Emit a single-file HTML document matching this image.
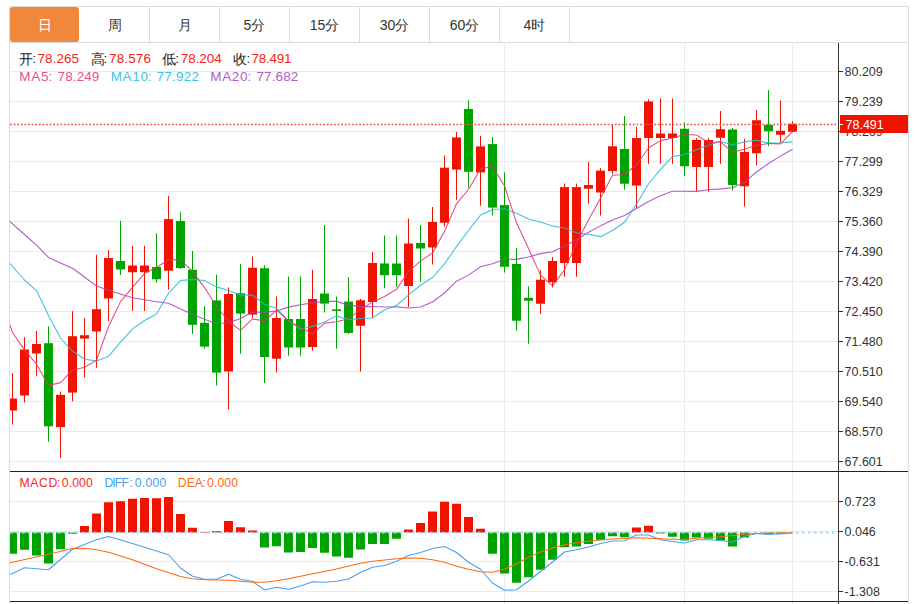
<!DOCTYPE html>
<html><head><meta charset="utf-8"><style>
*{margin:0;padding:0;box-sizing:border-box}
html,body{width:916px;height:604px;overflow:hidden;background:#fff;font-family:"Liberation Sans",sans-serif}
#frame{position:absolute;left:9px;top:6px;width:900px;height:600px;border:1px solid #dcdcdc;border-bottom:none}
#tabline{position:absolute;left:10px;top:42px;width:898px;height:1px;background:#dcdcdc}
.tab{position:absolute;top:7px;height:35px;line-height:36px;text-align:center;font-size:14px;color:#333}
.tab.on{background:#ef883b;color:#fff;border-radius:3px}
.div{position:absolute;top:7px;width:1px;height:35px;background:#dcdcdc}
svg{position:absolute;left:0;top:0}
.ax{font-size:12.5px;fill:#333;font-family:"Liberation Sans",sans-serif}
.lg{position:absolute;font-size:13px;white-space:nowrap;color:#222}
.lg span{margin-right:0}
</style></head><body>
<div id="frame"></div>
<div id="tabline"></div>
<div class="tab on" style="left:10px;width:69px">日</div><div class="tab" style="left:80px;width:69px">周</div><div class="div" style="left:149px"></div><div class="tab" style="left:150px;width:69px">月</div><div class="div" style="left:219px"></div><div class="tab" style="left:220px;width:69px">5分</div><div class="div" style="left:289px"></div><div class="tab" style="left:290px;width:69px">15分</div><div class="div" style="left:359px"></div><div class="tab" style="left:360px;width:69px">30分</div><div class="div" style="left:429px"></div><div class="tab" style="left:430px;width:69px">60分</div><div class="div" style="left:499px"></div><div class="tab" style="left:500px;width:69px">4时</div><div class="div" style="left:569px"></div>
<svg width="916" height="604" viewBox="0 0 916 604">
<defs><clipPath id="cm"><rect x="10" y="43" width="828" height="428"/></clipPath>
<clipPath id="cd"><rect x="10" y="472" width="828" height="129"/></clipPath></defs>
<line x1="10" y1="71.5" x2="838" y2="71.5" stroke="#e1edf3" stroke-width="1"/>
<line x1="10" y1="101.5" x2="838" y2="101.5" stroke="#e1edf3" stroke-width="1"/>
<line x1="10" y1="131.5" x2="838" y2="131.5" stroke="#e1edf3" stroke-width="1"/>
<line x1="10" y1="161.5" x2="838" y2="161.5" stroke="#e1edf3" stroke-width="1"/>
<line x1="10" y1="191.5" x2="838" y2="191.5" stroke="#e1edf3" stroke-width="1"/>
<line x1="10" y1="221.5" x2="838" y2="221.5" stroke="#e1edf3" stroke-width="1"/>
<line x1="10" y1="251.5" x2="838" y2="251.5" stroke="#e1edf3" stroke-width="1"/>
<line x1="10" y1="281.5" x2="838" y2="281.5" stroke="#e1edf3" stroke-width="1"/>
<line x1="10" y1="311.5" x2="838" y2="311.5" stroke="#e1edf3" stroke-width="1"/>
<line x1="10" y1="341.5" x2="838" y2="341.5" stroke="#e1edf3" stroke-width="1"/>
<line x1="10" y1="371.5" x2="838" y2="371.5" stroke="#e1edf3" stroke-width="1"/>
<line x1="10" y1="401.5" x2="838" y2="401.5" stroke="#e1edf3" stroke-width="1"/>
<line x1="10" y1="431.5" x2="838" y2="431.5" stroke="#e1edf3" stroke-width="1"/>
<line x1="10" y1="461.5" x2="838" y2="461.5" stroke="#e1edf3" stroke-width="1"/>
<line x1="10" y1="501.5" x2="838" y2="501.5" stroke="#e1edf3" stroke-width="1"/>
<line x1="10" y1="531.5" x2="838" y2="531.5" stroke="#e1edf3" stroke-width="1"/>
<line x1="10" y1="561.5" x2="838" y2="561.5" stroke="#e1edf3" stroke-width="1"/>
<line x1="10" y1="591.5" x2="838" y2="591.5" stroke="#e1edf3" stroke-width="1"/>
<line x1="504.5" y1="43" x2="504.5" y2="604" stroke="#e1edf3" stroke-width="1"/>
<line x1="684.5" y1="43" x2="684.5" y2="604" stroke="#e1edf3" stroke-width="1"/>
<line x1="792.5" y1="43" x2="792.5" y2="604" stroke="#e1edf3" stroke-width="1"/>
<g clip-path="url(#cm)"><rect x="12.0" y="373.00" width="1" height="51.50" fill="#f01400"/><rect x="8.0" y="398.50" width="9" height="12.00" fill="#f01400"/><rect x="24.0" y="337.10" width="1" height="65.40" fill="#f01400"/><rect x="20.0" y="349.50" width="9" height="46.00" fill="#f01400"/><rect x="36.0" y="331.00" width="1" height="45.30" fill="#f01400"/><rect x="32.0" y="344.00" width="9" height="9.50" fill="#f01400"/><rect x="48.0" y="326.50" width="1" height="115.20" fill="#00a400"/><rect x="44.0" y="343.20" width="9" height="83.10" fill="#00a400"/><rect x="60.0" y="391.60" width="1" height="66.20" fill="#f01400"/><rect x="56.0" y="394.90" width="9" height="32.30" fill="#f01400"/><rect x="72.0" y="311.20" width="1" height="90.10" fill="#f01400"/><rect x="68.0" y="336.20" width="9" height="56.40" fill="#f01400"/><rect x="84.0" y="318.20" width="1" height="59.30" fill="#f01400"/><rect x="80.0" y="335.20" width="9" height="3.40" fill="#f01400"/><rect x="96.0" y="254.75" width="1" height="113.05" fill="#f01400"/><rect x="92.0" y="309.20" width="9" height="22.30" fill="#f01400"/><rect x="108.0" y="250.00" width="1" height="71.00" fill="#f01400"/><rect x="104.0" y="258.00" width="9" height="40.50" fill="#f01400"/><rect x="120.0" y="220.75" width="1" height="54.25" fill="#00a400"/><rect x="116.0" y="261.00" width="9" height="8.50" fill="#00a400"/><rect x="132.0" y="245.75" width="1" height="65.25" fill="#f01400"/><rect x="128.0" y="265.50" width="9" height="6.75" fill="#f01400"/><rect x="144.0" y="245.75" width="1" height="65.25" fill="#f01400"/><rect x="140.0" y="265.50" width="9" height="6.75" fill="#f01400"/><rect x="156.0" y="233.25" width="1" height="49.50" fill="#00a400"/><rect x="152.0" y="267.00" width="9" height="12.25" fill="#00a400"/><rect x="168.0" y="196.10" width="1" height="93.65" fill="#f01400"/><rect x="164.0" y="219.10" width="9" height="51.65" fill="#f01400"/><rect x="180.0" y="212.25" width="1" height="56.75" fill="#00a400"/><rect x="176.0" y="221.00" width="9" height="47.00" fill="#00a400"/><rect x="192.0" y="251.00" width="1" height="83.00" fill="#00a400"/><rect x="188.0" y="269.80" width="9" height="55.00" fill="#00a400"/><rect x="204.0" y="306.10" width="1" height="42.30" fill="#00a400"/><rect x="200.0" y="322.80" width="9" height="23.80" fill="#00a400"/><rect x="216.0" y="274.70" width="1" height="110.80" fill="#00a400"/><rect x="212.0" y="300.40" width="9" height="72.20" fill="#00a400"/><rect x="228.0" y="287.40" width="1" height="122.00" fill="#f01400"/><rect x="224.0" y="294.00" width="9" height="77.40" fill="#f01400"/><rect x="240.0" y="263.90" width="1" height="89.90" fill="#00a400"/><rect x="236.0" y="293.20" width="9" height="20.40" fill="#00a400"/><rect x="252.0" y="256.50" width="1" height="61.60" fill="#f01400"/><rect x="248.0" y="267.75" width="9" height="46.85" fill="#f01400"/><rect x="264.0" y="265.25" width="1" height="117.75" fill="#00a400"/><rect x="260.0" y="268.25" width="9" height="88.75" fill="#00a400"/><rect x="276.0" y="296.50" width="1" height="76.00" fill="#f01400"/><rect x="272.0" y="318.00" width="9" height="40.75" fill="#f01400"/><rect x="288.0" y="276.50" width="1" height="79.25" fill="#00a400"/><rect x="284.0" y="319.00" width="9" height="28.50" fill="#00a400"/><rect x="300.0" y="276.50" width="1" height="79.25" fill="#00a400"/><rect x="296.0" y="319.00" width="9" height="28.50" fill="#00a400"/><rect x="312.0" y="269.75" width="1" height="81.00" fill="#f01400"/><rect x="308.0" y="299.00" width="9" height="48.00" fill="#f01400"/><rect x="324.0" y="225.00" width="1" height="87.60" fill="#00a400"/><rect x="320.0" y="293.50" width="9" height="10.10" fill="#00a400"/><rect x="336.0" y="296.50" width="1" height="52.25" fill="#00a400"/><rect x="332.0" y="309.30" width="9" height="1.60" fill="#00a400"/><rect x="348.0" y="277.00" width="1" height="57.10" fill="#00a400"/><rect x="344.0" y="301.50" width="9" height="31.40" fill="#00a400"/><rect x="360.0" y="299.00" width="1" height="72.50" fill="#f01400"/><rect x="356.0" y="300.25" width="9" height="25.50" fill="#f01400"/><rect x="372.0" y="252.00" width="1" height="65.50" fill="#f01400"/><rect x="368.0" y="263.00" width="9" height="39.00" fill="#f01400"/><rect x="384.0" y="235.50" width="1" height="52.75" fill="#00a400"/><rect x="380.0" y="263.50" width="9" height="11.75" fill="#00a400"/><rect x="396.0" y="235.50" width="1" height="51.50" fill="#00a400"/><rect x="392.0" y="263.50" width="9" height="11.75" fill="#00a400"/><rect x="408.0" y="218.50" width="1" height="88.50" fill="#f01400"/><rect x="404.0" y="243.50" width="9" height="42.50" fill="#f01400"/><rect x="420.0" y="225.00" width="1" height="56.50" fill="#00a400"/><rect x="416.0" y="243.00" width="9" height="5.50" fill="#00a400"/><rect x="432.0" y="207.00" width="1" height="57.50" fill="#f01400"/><rect x="428.0" y="222.00" width="9" height="25.50" fill="#f01400"/><rect x="444.0" y="155.30" width="1" height="71.20" fill="#f01400"/><rect x="440.0" y="167.70" width="9" height="55.05" fill="#f01400"/><rect x="456.0" y="131.90" width="1" height="67.90" fill="#f01400"/><rect x="452.0" y="137.40" width="9" height="32.20" fill="#f01400"/><rect x="468.0" y="100.40" width="1" height="87.30" fill="#00a400"/><rect x="464.0" y="109.00" width="9" height="62.80" fill="#00a400"/><rect x="480.0" y="135.80" width="1" height="69.90" fill="#f01400"/><rect x="476.0" y="146.40" width="9" height="26.00" fill="#f01400"/><rect x="492.0" y="137.00" width="1" height="78.50" fill="#00a400"/><rect x="488.0" y="144.10" width="9" height="63.50" fill="#00a400"/><rect x="504.0" y="172.50" width="1" height="100.00" fill="#00a400"/><rect x="500.0" y="205.10" width="9" height="61.65" fill="#00a400"/><rect x="516.0" y="248.00" width="1" height="82.75" fill="#00a400"/><rect x="512.0" y="264.00" width="9" height="56.75" fill="#00a400"/><rect x="528.0" y="286.25" width="1" height="57.50" fill="#00a400"/><rect x="524.0" y="297.75" width="9" height="3.00" fill="#00a400"/><rect x="540.0" y="270.00" width="1" height="43.75" fill="#f01400"/><rect x="536.0" y="279.75" width="9" height="24.00" fill="#f01400"/><rect x="552.0" y="257.00" width="1" height="30.50" fill="#f01400"/><rect x="548.0" y="261.00" width="9" height="21.25" fill="#f01400"/><rect x="564.0" y="183.60" width="1" height="93.15" fill="#f01400"/><rect x="560.0" y="187.10" width="9" height="75.90" fill="#f01400"/><rect x="576.0" y="183.60" width="1" height="93.15" fill="#f01400"/><rect x="572.0" y="187.10" width="9" height="75.90" fill="#f01400"/><rect x="588.0" y="162.20" width="1" height="41.55" fill="#f01400"/><rect x="584.0" y="185.00" width="9" height="3.75" fill="#f01400"/><rect x="600.0" y="168.10" width="1" height="47.40" fill="#f01400"/><rect x="596.0" y="170.60" width="9" height="21.90" fill="#f01400"/><rect x="612.0" y="124.25" width="1" height="50.00" fill="#f01400"/><rect x="608.0" y="146.25" width="9" height="24.85" fill="#f01400"/><rect x="624.0" y="116.00" width="1" height="73.75" fill="#00a400"/><rect x="620.0" y="149.00" width="9" height="34.75" fill="#00a400"/><rect x="636.0" y="127.00" width="1" height="81.00" fill="#f01400"/><rect x="632.0" y="138.00" width="9" height="47.60" fill="#f01400"/><rect x="648.0" y="99.25" width="1" height="64.50" fill="#f01400"/><rect x="644.0" y="101.50" width="9" height="36.50" fill="#f01400"/><rect x="660.0" y="98.50" width="1" height="65.25" fill="#f01400"/><rect x="656.0" y="133.50" width="9" height="4.50" fill="#f01400"/><rect x="672.0" y="98.50" width="1" height="65.25" fill="#f01400"/><rect x="668.0" y="133.50" width="9" height="4.50" fill="#f01400"/><rect x="684.0" y="122.50" width="1" height="53.40" fill="#00a400"/><rect x="680.0" y="128.75" width="9" height="37.50" fill="#00a400"/><rect x="696.0" y="138.00" width="1" height="53.25" fill="#f01400"/><rect x="692.0" y="140.00" width="9" height="27.00" fill="#f01400"/><rect x="708.0" y="138.00" width="1" height="53.75" fill="#f01400"/><rect x="704.0" y="140.00" width="9" height="27.00" fill="#f01400"/><rect x="720.0" y="111.00" width="1" height="52.75" fill="#f01400"/><rect x="716.0" y="129.25" width="9" height="8.50" fill="#f01400"/><rect x="732.0" y="128.00" width="1" height="62.50" fill="#00a400"/><rect x="728.0" y="129.50" width="9" height="55.50" fill="#00a400"/><rect x="744.0" y="138.75" width="1" height="67.75" fill="#f01400"/><rect x="740.0" y="152.00" width="9" height="34.25" fill="#f01400"/><rect x="756.0" y="110.00" width="1" height="55.25" fill="#f01400"/><rect x="752.0" y="120.25" width="9" height="33.00" fill="#f01400"/><rect x="768.0" y="90.00" width="1" height="56.25" fill="#00a400"/><rect x="764.0" y="125.00" width="9" height="6.25" fill="#00a400"/><rect x="780.0" y="100.50" width="1" height="42.00" fill="#f01400"/><rect x="776.0" y="130.75" width="9" height="4.00" fill="#f01400"/><rect x="792.0" y="121.25" width="1" height="11.00" fill="#f01400"/><rect x="788.0" y="123.75" width="9" height="8.00" fill="#f01400"/>
<polyline points="0.50,213.30 12.50,223.90 24.50,234.50 36.50,245.10 48.50,257.40 60.50,263.00 72.50,268.30 84.50,277.00 96.50,286.10 108.50,290.30 120.50,294.10 132.50,297.80 144.50,299.80 156.50,301.80 168.50,303.30 180.50,309.00 192.50,314.30 204.50,319.20 216.50,323.80 228.50,322.70 240.50,318.51 252.50,311.98 264.50,312.35 276.50,311.05 288.50,307.11 300.50,304.74 312.50,302.88 324.50,301.30 336.50,301.38 348.50,305.13 360.50,306.67 372.50,306.54 384.50,307.03 396.50,306.83 408.50,308.05 420.50,307.07 432.50,301.94 444.50,292.99 456.50,281.23 468.50,275.12 480.50,266.76 492.50,263.75 504.50,259.24 516.50,259.38 528.50,257.04 540.50,253.65 552.50,251.75 564.50,245.93 576.50,239.74 588.50,232.34 600.50,225.86 612.50,220.02 624.50,215.45 636.50,208.58 648.50,201.48 660.50,195.73 672.50,191.31 684.50,191.24 696.50,191.37 708.50,189.78 720.50,188.92 732.50,187.79 744.50,182.05 756.50,172.03 768.50,163.55 780.50,156.10 792.50,149.24" fill="none" stroke="#a73fc3" stroke-width="1.1" stroke-opacity="0.85" stroke-linejoin="round"/>
<polyline points="0.50,253.00 12.50,266.50 24.50,280.00 36.50,290.60 48.50,315.40 60.50,338.00 72.50,351.30 84.50,359.00 96.50,361.10 108.50,356.40 120.50,342.13 132.50,328.83 144.50,320.43 156.50,313.96 168.50,293.24 180.50,280.54 192.50,279.41 204.50,280.55 216.50,286.88 228.50,290.49 240.50,294.90 252.50,295.12 264.50,304.27 276.50,308.15 288.50,320.99 300.50,328.94 312.50,326.36 324.50,322.06 336.50,315.88 348.50,319.77 360.50,318.44 372.50,317.97 384.50,309.79 396.50,305.51 408.50,295.12 420.50,285.22 432.50,277.51 444.50,263.93 456.50,246.57 468.50,230.47 480.50,215.08 492.50,209.54 504.50,208.69 516.50,213.24 528.50,218.97 540.50,222.09 552.50,225.99 564.50,227.93 576.50,232.90 588.50,234.22 600.50,236.64 612.50,230.51 624.50,222.21 636.50,203.93 648.50,184.00 660.50,169.38 672.50,156.63 684.50,154.55 696.50,149.83 708.50,145.33 720.50,141.20 732.50,145.07 744.50,141.90 756.50,140.12 768.50,143.10 780.50,142.82 792.50,141.85" fill="none" stroke="#1ebad6" stroke-width="1.1" stroke-opacity="0.85" stroke-linejoin="round"/>
<polyline points="0.50,296.50 12.50,332.50 24.50,349.90 36.50,364.20 48.50,385.40 60.50,382.64 72.50,370.18 84.50,367.32 96.50,360.36 108.50,326.70 120.50,301.62 132.50,287.48 144.50,273.54 156.50,267.55 168.50,259.77 180.50,259.47 192.50,271.33 204.50,287.55 216.50,306.22 228.50,321.20 240.50,330.32 252.50,318.91 264.50,320.99 276.50,310.07 288.50,320.77 300.50,327.55 312.50,333.80 324.50,323.12 336.50,321.70 348.50,318.78 360.50,309.33 372.50,302.13 384.50,296.46 396.50,289.33 408.50,271.45 420.50,261.10 432.50,252.90 444.50,231.39 456.50,203.82 468.50,189.48 480.50,169.06 492.50,166.18 504.50,185.99 516.50,222.66 528.50,248.45 540.50,275.12 552.50,285.80 564.50,269.87 576.50,243.14 588.50,219.99 600.50,198.16 612.50,175.21 624.50,174.54 636.50,164.72 648.50,148.02 660.50,140.60 672.50,138.05 684.50,134.55 696.50,134.95 708.50,142.65 720.50,141.80 732.50,152.10 744.50,149.25 756.50,145.30 768.50,143.55 780.50,143.85 792.50,131.60" fill="none" stroke="#e4316f" stroke-width="1.1" stroke-opacity="0.85" stroke-linejoin="round"/>
</g>
<line x1="10" y1="124.5" x2="838" y2="124.5" stroke="#f25050" stroke-width="1.6" stroke-dasharray="1.8,1.8"/>
<g clip-path="url(#cd)"><rect x="8.0" y="532.50" width="9" height="21.25" fill="#00a400"/><rect x="20.0" y="532.50" width="9" height="17.25" fill="#00a400"/><rect x="32.0" y="532.50" width="9" height="23.00" fill="#00a400"/><rect x="44.0" y="532.50" width="9" height="31.00" fill="#00a400"/><rect x="56.0" y="532.50" width="9" height="16.75" fill="#00a400"/><rect x="68.0" y="532.50" width="9" height="1.25" fill="#00a400"/><rect x="80.0" y="526.00" width="9" height="6.50" fill="#f01400"/><rect x="92.0" y="513.50" width="9" height="19.00" fill="#f01400"/><rect x="104.0" y="502.25" width="9" height="30.25" fill="#f01400"/><rect x="116.0" y="501.25" width="9" height="31.25" fill="#f01400"/><rect x="128.0" y="498.75" width="9" height="33.75" fill="#f01400"/><rect x="140.0" y="498.00" width="9" height="34.50" fill="#f01400"/><rect x="152.0" y="498.25" width="9" height="34.25" fill="#f01400"/><rect x="164.0" y="497.00" width="9" height="35.50" fill="#f01400"/><rect x="176.0" y="514.00" width="9" height="18.50" fill="#f01400"/><rect x="188.0" y="527.75" width="9" height="4.75" fill="#f01400"/><rect x="200.0" y="532.00" width="9" height="0.50" fill="#f01400"/><rect x="212.0" y="531.25" width="9" height="1.25" fill="#f01400"/><rect x="224.0" y="521.00" width="9" height="11.50" fill="#f01400"/><rect x="236.0" y="527.25" width="9" height="5.25" fill="#f01400"/><rect x="248.0" y="530.50" width="9" height="2.00" fill="#f01400"/><rect x="260.0" y="532.50" width="9" height="15.00" fill="#00a400"/><rect x="272.0" y="532.50" width="9" height="13.75" fill="#00a400"/><rect x="284.0" y="532.50" width="9" height="20.00" fill="#00a400"/><rect x="296.0" y="532.50" width="9" height="19.50" fill="#00a400"/><rect x="308.0" y="532.50" width="9" height="15.50" fill="#00a400"/><rect x="320.0" y="532.50" width="9" height="20.25" fill="#00a400"/><rect x="332.0" y="532.50" width="9" height="24.00" fill="#00a400"/><rect x="344.0" y="532.50" width="9" height="25.25" fill="#00a400"/><rect x="356.0" y="532.50" width="9" height="17.00" fill="#00a400"/><rect x="368.0" y="532.50" width="9" height="11.50" fill="#00a400"/><rect x="380.0" y="532.50" width="9" height="11.50" fill="#00a400"/><rect x="392.0" y="532.50" width="9" height="6.25" fill="#00a400"/><rect x="404.0" y="529.50" width="9" height="3.00" fill="#f01400"/><rect x="416.0" y="523.00" width="9" height="9.50" fill="#f01400"/><rect x="428.0" y="511.50" width="9" height="21.00" fill="#f01400"/><rect x="440.0" y="501.75" width="9" height="30.75" fill="#f01400"/><rect x="452.0" y="503.75" width="9" height="28.75" fill="#f01400"/><rect x="464.0" y="517.00" width="9" height="15.50" fill="#f01400"/><rect x="476.0" y="528.75" width="9" height="3.75" fill="#f01400"/><rect x="488.0" y="532.50" width="9" height="21.25" fill="#00a400"/><rect x="500.0" y="532.50" width="9" height="41.00" fill="#00a400"/><rect x="512.0" y="532.50" width="9" height="50.25" fill="#00a400"/><rect x="524.0" y="532.50" width="9" height="44.75" fill="#00a400"/><rect x="536.0" y="532.50" width="9" height="37.25" fill="#00a400"/><rect x="548.0" y="532.50" width="9" height="27.25" fill="#00a400"/><rect x="560.0" y="532.50" width="9" height="14.75" fill="#00a400"/><rect x="572.0" y="532.50" width="9" height="14.00" fill="#00a400"/><rect x="584.0" y="532.50" width="9" height="11.50" fill="#00a400"/><rect x="596.0" y="532.50" width="9" height="7.75" fill="#00a400"/><rect x="608.0" y="532.50" width="9" height="3.75" fill="#00a400"/><rect x="620.0" y="532.50" width="9" height="4.75" fill="#00a400"/><rect x="632.0" y="527.50" width="9" height="5.00" fill="#f01400"/><rect x="644.0" y="525.75" width="9" height="6.75" fill="#f01400"/><rect x="656.0" y="532.50" width="9" height="1.00" fill="#00a400"/><rect x="668.0" y="532.50" width="9" height="4.25" fill="#00a400"/><rect x="680.0" y="532.50" width="9" height="8.00" fill="#00a400"/><rect x="692.0" y="532.50" width="9" height="5.00" fill="#00a400"/><rect x="704.0" y="532.50" width="9" height="6.25" fill="#00a400"/><rect x="716.0" y="532.50" width="9" height="8.00" fill="#00a400"/><rect x="728.0" y="532.50" width="9" height="14.00" fill="#00a400"/><rect x="740.0" y="532.50" width="9" height="5.00" fill="#00a400"/><rect x="764.0" y="532.50" width="9" height="1.80" fill="#00a400"/><rect x="776.0" y="532.50" width="9" height="1.10" fill="#00a400"/>
<line x1="10" y1="532.6" x2="838" y2="532.6" stroke="#a8d8f0" stroke-width="1.6" stroke-dasharray="2.6,3.4"/>
<polyline points="0.50,577.00 12.50,573.50 24.50,567.75 48.50,569.75 72.50,549.25 96.50,539.75 108.50,536.50 132.50,543.50 168.50,554.75 180.50,568.00 192.50,576.25 204.50,579.25 216.50,579.25 228.50,574.25 240.50,579.25 252.50,581.25 264.50,590.00 276.50,587.25 288.50,589.25 300.50,586.00 312.50,581.75 324.50,582.25 336.50,581.25 348.50,579.00 360.50,572.50 372.50,567.25 384.50,565.50 396.50,561.25 408.50,555.50 420.50,552.50 432.50,548.50 444.50,546.50 456.50,552.50 468.50,562.25 480.50,569.25 492.50,583.00 504.50,590.25 516.50,589.75 528.50,581.00 540.50,571.50 552.50,562.00 564.50,552.00 576.50,549.75 588.50,547.00 600.50,543.50 612.50,541.00 624.50,540.75 636.50,535.00 648.50,535.00 660.50,539.75 672.50,541.50 684.50,543.00 696.50,539.75 708.50,539.75 720.50,540.50 732.50,542.25 744.50,536.25 756.50,533.50 768.50,534.25 780.50,534.00 792.50,533.00" fill="none" stroke="#45a0f0" stroke-width="1.1" stroke-opacity="1" stroke-linejoin="round"/>
<polyline points="0.50,564.00 12.50,562.25 48.50,554.25 72.50,548.50 84.50,548.25 96.50,549.75 108.50,552.25 132.50,559.75 156.50,568.75 180.50,576.50 192.50,578.75 204.50,579.75 228.50,580.25 240.50,581.25 252.50,582.25 264.50,582.25 276.50,580.75 288.50,578.75 300.50,576.25 312.50,573.75 324.50,571.50 336.50,569.00 348.50,566.00 360.50,563.25 372.50,561.25 384.50,560.00 396.50,558.75 408.50,558.00 420.50,558.25 432.50,559.75 444.50,562.25 456.50,566.25 468.50,569.25 480.50,571.75 492.50,572.25 504.50,569.25 516.50,563.75 528.50,557.25 540.50,552.00 552.50,548.00 564.50,544.75 576.50,542.75 588.50,541.25 600.50,539.75 612.50,539.00 624.50,538.50 636.50,537.75 648.50,538.25 660.50,538.75 672.50,539.25 684.50,539.50 696.50,538.25 708.50,537.50 720.50,536.75 732.50,535.50 744.50,534.25 756.50,533.50 768.50,533.25 780.50,533.00 792.50,532.75" fill="none" stroke="#fb6a12" stroke-width="1.1" stroke-opacity="1" stroke-linejoin="round"/>
</g>
<line x1="838.5" y1="43" x2="838.5" y2="604" stroke="#333" stroke-width="1"/>
<line x1="10" y1="471.5" x2="908" y2="471.5" stroke="#222" stroke-width="1"/>
<line x1="10" y1="601.5" x2="908" y2="601.5" stroke="#222" stroke-width="1"/>
<line x1="838" y1="71.5" x2="843" y2="71.5" stroke="#333" stroke-width="1"/>
<text x="844.5" y="76.0" class="ax">80.209</text>
<line x1="838" y1="101.5" x2="843" y2="101.5" stroke="#333" stroke-width="1"/>
<text x="844.5" y="106.0" class="ax">79.239</text>
<line x1="838" y1="131.5" x2="843" y2="131.5" stroke="#333" stroke-width="1"/>
<text x="844.5" y="136.0" class="ax">78.269</text>
<line x1="838" y1="161.5" x2="843" y2="161.5" stroke="#333" stroke-width="1"/>
<text x="844.5" y="166.0" class="ax">77.299</text>
<line x1="838" y1="191.5" x2="843" y2="191.5" stroke="#333" stroke-width="1"/>
<text x="844.5" y="196.0" class="ax">76.329</text>
<line x1="838" y1="221.5" x2="843" y2="221.5" stroke="#333" stroke-width="1"/>
<text x="844.5" y="226.0" class="ax">75.360</text>
<line x1="838" y1="251.5" x2="843" y2="251.5" stroke="#333" stroke-width="1"/>
<text x="844.5" y="256.0" class="ax">74.390</text>
<line x1="838" y1="281.5" x2="843" y2="281.5" stroke="#333" stroke-width="1"/>
<text x="844.5" y="286.0" class="ax">73.420</text>
<line x1="838" y1="311.5" x2="843" y2="311.5" stroke="#333" stroke-width="1"/>
<text x="844.5" y="316.0" class="ax">72.450</text>
<line x1="838" y1="341.5" x2="843" y2="341.5" stroke="#333" stroke-width="1"/>
<text x="844.5" y="346.0" class="ax">71.480</text>
<line x1="838" y1="371.5" x2="843" y2="371.5" stroke="#333" stroke-width="1"/>
<text x="844.5" y="376.0" class="ax">70.510</text>
<line x1="838" y1="401.5" x2="843" y2="401.5" stroke="#333" stroke-width="1"/>
<text x="844.5" y="406.0" class="ax">69.540</text>
<line x1="838" y1="431.5" x2="843" y2="431.5" stroke="#333" stroke-width="1"/>
<text x="844.5" y="436.0" class="ax">68.570</text>
<line x1="838" y1="461.5" x2="843" y2="461.5" stroke="#333" stroke-width="1"/>
<text x="844.5" y="466.0" class="ax">67.601</text>
<line x1="838" y1="501.5" x2="843" y2="501.5" stroke="#333" stroke-width="1"/>
<text x="844.5" y="506.0" class="ax">0.723</text>
<line x1="838" y1="531.5" x2="843" y2="531.5" stroke="#333" stroke-width="1"/>
<text x="844.5" y="536.0" class="ax">0.046</text>
<line x1="838" y1="561.5" x2="843" y2="561.5" stroke="#333" stroke-width="1"/>
<text x="844.5" y="566.0" class="ax">-0.631</text>
<line x1="838" y1="591.5" x2="843" y2="591.5" stroke="#333" stroke-width="1"/>
<text x="844.5" y="596.0" class="ax">-1.308</text>
<rect x="840" y="115" width="68" height="18" fill="#f01400"/>
<line x1="839" y1="124.5" x2="843" y2="124.5" stroke="#fff" stroke-width="1"/>
<text x="845.5" y="129" class="ax" style="fill:#fff">78.491</text>
</svg>
<div class="lg" style="left:19.01px;top:51.20px;color:#222;font-size:13.5px;letter-spacing:0px">开</div><div class="lg" style="left:32.13px;top:51.20px;color:#222;font-size:13.5px;letter-spacing:0px">:</div><div class="lg" style="left:37.53px;top:51.20px;color:#f5221a;font-size:13.5px;letter-spacing:0.056px">78.265</div><div class="lg" style="left:90.91px;top:51.20px;color:#222;font-size:13.5px;letter-spacing:0px">高</div><div class="lg" style="left:103.62px;top:51.20px;color:#222;font-size:13.5px;letter-spacing:0px">:</div><div class="lg" style="left:109.11px;top:51.20px;color:#f5221a;font-size:13.5px;letter-spacing:0.108px">78.576</div><div class="lg" style="left:161.73px;top:51.20px;color:#222;font-size:13.5px;letter-spacing:0px">低</div><div class="lg" style="left:175.13px;top:51.20px;color:#222;font-size:13.5px;letter-spacing:0px">:</div><div class="lg" style="left:180.75px;top:51.20px;color:#f5221a;font-size:13.5px;letter-spacing:-0.06px">78.204</div><div class="lg" style="left:233.37px;top:51.20px;color:#222;font-size:13.5px;letter-spacing:0px">收</div><div class="lg" style="left:246.62px;top:51.20px;color:#222;font-size:13.5px;letter-spacing:0px">:</div><div class="lg" style="left:251.53px;top:51.20px;color:#f5221a;font-size:13.5px;letter-spacing:-0.274px">78.491</div><div class="lg" style="left:19.15px;top:68.80px;color:#e8518c;font-size:13.5px;letter-spacing:0.821px">MA5</div><div class="lg" style="left:48.62px;top:68.80px;color:#e8518c;font-size:13.5px;letter-spacing:0px">:</div><div class="lg" style="left:57.58px;top:68.80px;color:#e8518c;font-size:13.5px;letter-spacing:0.096px">78.249</div><div class="lg" style="left:110.70px;top:68.80px;color:#40c4dc;font-size:13.5px;letter-spacing:0.668px">MA10</div><div class="lg" style="left:147.83px;top:68.80px;color:#40c4dc;font-size:13.5px;letter-spacing:0px">:</div><div class="lg" style="left:156.39px;top:68.80px;color:#40c4dc;font-size:13.5px;letter-spacing:0.272px">77.922</div><div class="lg" style="left:210.30px;top:68.80px;color:#b45ccc;font-size:13.5px;letter-spacing:0.633px">MA20</div><div class="lg" style="left:247.56px;top:68.80px;color:#b45ccc;font-size:13.5px;letter-spacing:0px">:</div><div class="lg" style="left:256.44px;top:68.80px;color:#b45ccc;font-size:13.5px;letter-spacing:0.125px">77.682</div><div class="lg" style="left:19.49px;top:476.20px;color:#f22a22;font-size:12.2px;letter-spacing:0.615px">MACD</div><div class="lg" style="left:56.78px;top:476.20px;color:#f22a22;font-size:12.2px;letter-spacing:0px">:</div><div class="lg" style="left:61.73px;top:476.20px;color:#f22a22;font-size:12.2px;letter-spacing:0.132px">0.000</div><div class="lg" style="left:104.43px;top:476.20px;color:#45a0f0;font-size:12.2px;letter-spacing:-0.878px">DIFF</div><div class="lg" style="left:129.57px;top:476.20px;color:#45a0f0;font-size:12.2px;letter-spacing:0px">:</div><div class="lg" style="left:134.84px;top:476.20px;color:#45a0f0;font-size:12.2px;letter-spacing:0.208px">0.000</div><div class="lg" style="left:177.82px;top:476.20px;color:#fb6a12;font-size:12.2px;letter-spacing:0.03px">DEA</div><div class="lg" style="left:202.50px;top:476.20px;color:#fb6a12;font-size:12.2px;letter-spacing:0px">:</div><div class="lg" style="left:207.01px;top:476.20px;color:#fb6a12;font-size:12.2px;letter-spacing:0.115px">0.000</div>
</body></html>
